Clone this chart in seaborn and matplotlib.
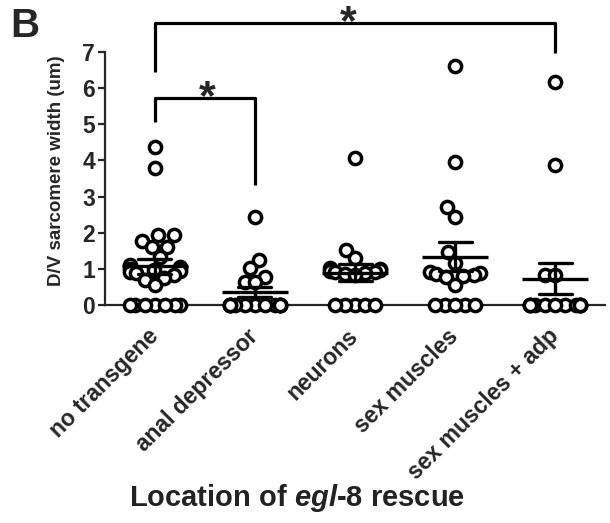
import warnings
import pandas as pd
import numpy as np
import matplotlib
matplotlib.use('Agg')
import matplotlib.pyplot as plt
import seaborn as sns

warnings.filterwarnings('ignore')

# datos (um)
grupos = ['no transgene', 'anal depressor', 'neurons', 'sex muscles', 'sex muscles + adp']
no_transgene = [4.36, 3.80, 1.94, 1.94, 1.78, 1.61, 1.61, 1.33, 1.10, 1.05, 1.03, 1.00,
                0.98, 0.95, 0.92, 0.88, 0.82, 0.75, 0.68, 0.55, 0, 0, 0, 0, 0, 0, 0]
anal_depressor = [2.44, 1.25, 1.03, 0.78, 0.64, 0.64] + [0] * 13
neurons = [4.08, 1.53, 1.31, 1.02, 1.00, 0.97, 0.95, 0.92, 0.90, 0.88, 0.85, 0.82,
           0, 0, 0, 0, 0]
sex_muscles = [6.60, 3.97, 2.70, 2.44, 1.47, 1.17, 0.92, 0.88, 0.85, 0.82, 0.80, 0.78,
               0.55, 0, 0, 0, 0, 0]
sex_muscles_adp = [6.17, 3.87, 0.83, 0.83] + [0] * 12
y_ticks = [0, 1, 2, 3, 4, 5, 6, 7]

valores = [no_transgene, anal_depressor, neurons, sex_muscles, sex_muscles_adp]
df = pd.DataFrame({
    'grupo': np.repeat(grupos, [len(v) for v in valores]),
    'ancho': np.concatenate(valores),
})

sns.set_style('ticks')
plt.rcParams['font.family'] = ['Liberation Sans', 'DejaVu Sans']
plt.rcParams['font.weight'] = 'bold'
plt.rcParams['mathtext.fontset'] = 'custom'
plt.rcParams['mathtext.it'] = 'Liberation Sans:italic:bold'
plt.rcParams['mathtext.rm'] = 'Liberation Sans:bold'

fig = plt.figure(figsize=(6.1, 5.23), dpi=100)
ax = fig.add_axes([0.172, 0.4168, 0.82, 0.4838])

sns.swarmplot(data=df, x='grupo', y='ancho', order=grupos, color='white',
              edgecolor='black', linewidth=2.5, size=8.8, ax=ax, zorder=3)
ax.set_xlim(-0.5, 4.5)
ax.set_ylim(0, 7)

# compactar el enjambre (estilo GraphPad, puntos solapados)
fig.canvas.draw()
for col in ax.collections:
    off = np.array(col.get_offsets())
    if len(off) == 0:
        continue
    c = np.round(np.median(off[:, 0]))
    off[:, 0] = c + (off[:, 0] - c) * 0.62
    col.set_offsets(off)
    if 'draw' in col.__dict__:
        del col.draw
    col.set_clip_on(False)

sns.pointplot(data=df, x='grupo', y='ancho', order=grupos, errorbar='se', capsize=0.33,
              color='black', linestyle='none', marker='_', markersize=47,
              markeredgewidth=2.4, err_kws={'linewidth': 2.4}, ax=ax)
for ln in ax.lines:
    ln.set_zorder(4)
    ln.set_clip_on(False)

ax.set_xlim(-0.5, 4.5)
ax.set_ylim(0, 7)
ax.set_yticks(y_ticks)
sns.despine(ax=ax)
for s in ['left', 'bottom']:
    ax.spines[s].set_linewidth(1.6)
ax.tick_params(axis='y', width=1.6, length=5, labelsize=16.5, pad=2)
ax.tick_params(axis='x', length=0, labelsize=16.5, pad=20)
for lab in ax.get_yticklabels():
    lab.set_fontweight('bold')
ax.set_xticks(range(len(grupos)))
ax.set_xticklabels(grupos, rotation=45, ha='right', va='center',
                   rotation_mode='anchor', fontweight='bold')
ax.set_xlabel('')
ax.set_ylabel('D/V sarcomere width (um)', fontsize=13.5, fontweight='bold')
ax.yaxis.set_label_coords(-0.08, 0.53)

# corchetes de significancia
kw = dict(color='black', lw=2.3, clip_on=False, solid_capstyle='butt')
ax.plot([0, 0, 1, 1], [5.06, 5.72, 5.72, 3.32], **kw)
ax.plot([0, 0, 4, 4], [6.45, 7.8, 7.8, 6.97], **kw)
ax.text(0.52, 5.72, '*', fontsize=31, fontweight='bold', ha='center', va='center')
ax.text(1.93, 7.8, '*', fontsize=31, fontweight='bold', ha='center', va='center')

fig.text(297 / 610, 1 - 498 / 523, 'Location of $egl$-$\\mathit{8}$ rescue',
         fontsize=21, fontweight='bold', ha='center', va='center', color='#222222')
fig.text(10 / 610, 1 - 26 / 523, 'B', fontsize=29, fontweight='bold', ha='left', va='center')

fig.savefig('out.png', dpi=100)
